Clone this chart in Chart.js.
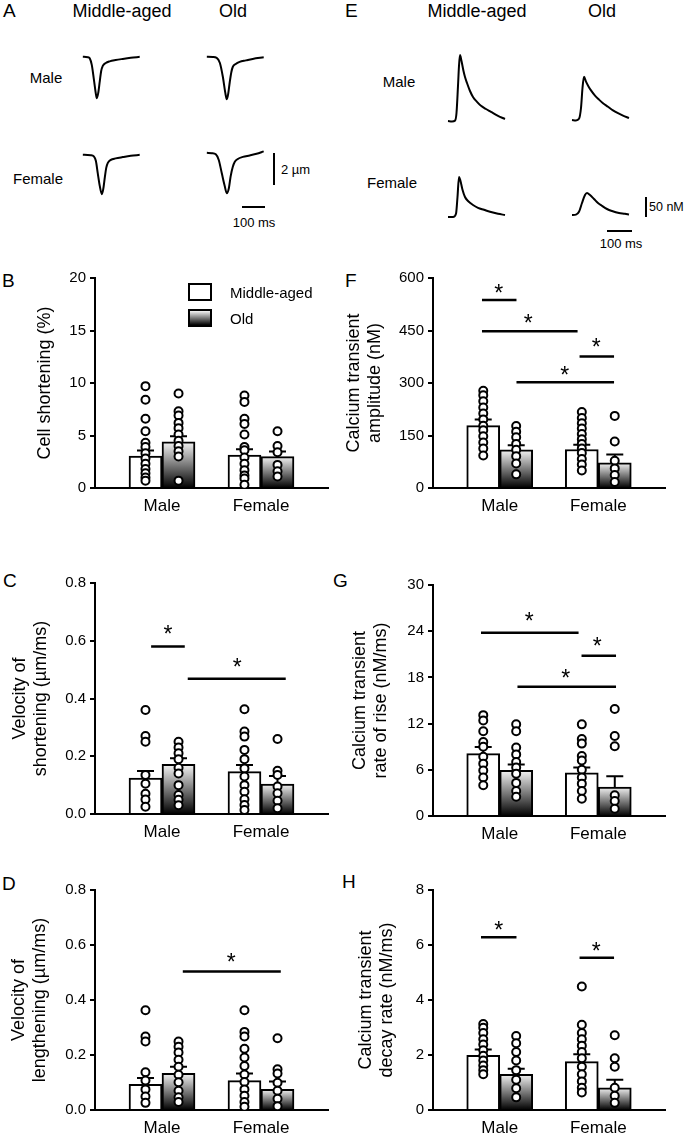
<!DOCTYPE html>
<html>
<head>
<meta charset="utf-8">
<script src="https://cdn.jsdelivr.net/npm/chart.js@4.4.1/dist/chart.umd.min.js"></script>
<style>
  body { margin: 0; background: #fff; }
  #fig { position: relative; width: 686px; height: 1146px; overflow: hidden; background: #fff;
         font-family: Arial, "Liberation Sans", sans-serif; color: #000; }
  #fig canvas { position: absolute; }
  .t { position: absolute; line-height: 1; white-space: nowrap; transform: translateY(-50%); }
  .c { transform: translate(-50%, -50%); }
  .ln { position: absolute; background: #000; }
  .sw { position: absolute; width: 20px; height: 14px; border: 2px solid #000; background: #fff; }
</style>
</head>
<body>
<div id="fig">
  <!-- A : sarcomere traces -->
  <div class="t" style="left:3px;top:10px;font-size:19px">A</div>
  <div class="t c" style="left:122px;top:11px;font-size:18px">Middle-aged</div>
  <div class="t c" style="left:233px;top:11px;font-size:18px">Old</div>
  <div class="t c" style="left:46px;top:77px;font-size:15px">Male</div>
  <div class="t c" style="left:38px;top:178px;font-size:15px">Female</div>
  <canvas id="aMaleMid" width="61" height="50" style="left:81px;top:52px"></canvas>
  <canvas id="aMaleOld" width="61" height="50" style="left:205px;top:52px"></canvas>
  <canvas id="aFemMid" width="61" height="50" style="left:81px;top:150px"></canvas>
  <canvas id="aFemOld" width="61" height="50" style="left:205px;top:148px"></canvas>
  <div class="ln" style="left:273px;top:153px;width:2px;height:32px"></div>
  <div class="t" style="left:281px;top:169px;font-size:13px">2 µm</div>
  <div class="ln" style="left:242px;top:206px;width:23px;height:2px"></div>
  <div class="t c" style="left:254px;top:222px;font-size:13px">100 ms</div>

  <!-- E : calcium transients -->
  <div class="t" style="left:345px;top:10px;font-size:19px">E</div>
  <div class="t c" style="left:477px;top:11px;font-size:18px">Middle-aged</div>
  <div class="t c" style="left:602px;top:11px;font-size:18px">Old</div>
  <div class="t c" style="left:399px;top:81px;font-size:15px">Male</div>
  <div class="t c" style="left:392px;top:182px;font-size:15px">Female</div>
  <canvas id="eMaleMid" width="62" height="76" style="left:446px;top:49px"></canvas>
  <canvas id="eMaleOld" width="62" height="76" style="left:570px;top:48px"></canvas>
  <canvas id="eFemMid" width="62" height="76" style="left:446px;top:145px"></canvas>
  <canvas id="eFemOld" width="62" height="76" style="left:570px;top:143px"></canvas>
  <div class="ln" style="left:645px;top:197px;width:2px;height:20px"></div>
  <div class="t" style="left:649px;top:207px;font-size:12.5px">50 nM</div>
  <div class="ln" style="left:607px;top:230px;width:25px;height:2px"></div>
  <div class="t c" style="left:621px;top:243px;font-size:13px">100 ms</div>

  <!-- bar panels -->
  <div class="t" style="left:2px;top:280px;font-size:19px">B</div>
  <div class="t" style="left:3px;top:580px;font-size:19px">C</div>
  <div class="t" style="left:2px;top:883px;font-size:19px">D</div>
  <div class="t" style="left:345px;top:280px;font-size:19px">F</div>
  <div class="t" style="left:333px;top:580px;font-size:19px">G</div>
  <div class="t" style="left:342px;top:881px;font-size:19px">H</div>

  <canvas id="panelB" width="343" height="270" style="left:0;top:258px"></canvas>
  <canvas id="panelC" width="343" height="291" style="left:0;top:563px"></canvas>
  <canvas id="panelD" width="343" height="276" style="left:0;top:870px"></canvas>
  <canvas id="panelF" width="343" height="270" style="left:343px;top:258px"></canvas>
  <canvas id="panelG" width="343" height="291" style="left:343px;top:565px"></canvas>
  <canvas id="panelH" width="343" height="276" style="left:343px;top:870px"></canvas>

  <!-- legend of B -->
  <div class="sw" style="left:188px;top:283px"></div>
  <div class="sw" style="left:188px;top:309px;background:linear-gradient(#f4f4f4,#000)"></div>
  <div class="t" style="left:230px;top:292px;font-size:15px">Middle-aged</div>
  <div class="t" style="left:230px;top:318px;font-size:15px">Old</div>
</div>

<script>
Chart.defaults.font.family = 'Arial, "Liberation Sans", sans-serif';
Chart.defaults.color = '#000';
Chart.defaults.animation = false;
Chart.defaults.plugins.legend.display = false;
Chart.defaults.plugins.tooltip.enabled = false;

const groups = ['Male', 'Female'];

// ---- A: cell shortening traces (time ms, displacement µm)
const aMaleMidT = [0, 22, 30, 39, 48, 57, 61, 67, 74, 80, 87, 100, 117, 143, 174, 209, 248];
const aMaleMidV = [0, -0.02, -0.09, -0.5, -1.38, -2.31, -2.56, -2.25, -1.5, -0.88, -0.56, -0.38, -0.28, -0.2, -0.13, -0.06, 0];
const aMaleOldT = [0, 26, 43, 57, 70, 80, 87, 93, 100, 107, 113, 126, 143, 170, 200, 248];
const aMaleOldV = [0, -0.01, -0.06, -0.38, -1.25, -2.19, -2.63, -2.31, -1.56, -0.94, -0.63, -0.44, -0.31, -0.22, -0.13, -0.03];
const aFemMidT = [0, 35, 48, 57, 65, 74, 83, 89, 96, 102, 109, 122, 143, 174, 209, 248];
const aFemMidV = [0, -0.02, -0.09, -0.38, -1.13, -1.94, -2.44, -2.13, -1.38, -0.81, -0.5, -0.31, -0.22, -0.14, -0.06, 0];
const aFemOldT = [0, 22, 39, 52, 65, 78, 87, 96, 104, 113, 122, 135, 157, 187, 217, 248];
const aFemOldV = [0, -0.02, -0.09, -0.44, -1.25, -2.06, -2.5, -2.19, -1.44, -0.88, -0.56, -0.38, -0.25, -0.16, -0.06, 0.09];

// ---- E: calcium transient traces (time ms, nM above baseline)
const eMaleMidT = [0, 16, 28, 34, 40, 44, 48, 54, 62, 68, 76, 88, 100, 116, 132, 152, 172, 200, 228];
const eMaleMidV = [0, -1, 1, 20, 88, 138, 165, 150, 125, 110, 95, 75, 60, 48, 38, 30, 23, 13, 5];
const eMaleOldT = [0, 16, 28, 36, 42, 48, 56, 66, 76, 92, 108, 124, 144, 164, 184, 204, 228];
const eMaleOldV = [0, -1, 3, 30, 80, 108, 96, 84, 74, 61, 51, 42, 33, 24, 17, 11, 5];
const eFemMidT = [0, 20, 32, 38, 44, 50, 58, 68, 80, 100, 120, 144, 168, 200, 228];
const eFemMidV = [0, 0, 8, 50, 100, 90, 68, 50, 40, 30, 23, 18, 13, 8, 5];
const eFemOldT = [0, 16, 28, 40, 52, 60, 72, 88, 104, 120, 140, 160, 188, 212, 228];
const eFemOldV = [0, 1, 8, 30, 50, 55, 50, 40, 30, 23, 15, 10, 5, 3, 1];

// ---- B: cell shortening (%)
const bTicks = [0, 5, 10, 15, 20];
const bMid = [3.04, 3.13];
const bOld = [4.40, 2.99];
const bMidSem = [0.53, 0.57];
const bOldSem = [0.53, 0.49];
const bMaleMid = [9.7, 8.4, 6.6, 5.4, 4.3, 3.9, 3.3, 2.8, 2.3, 1.8, 1.4, 1.0, 0.7];
const bMaleOld = [9.0, 7.3, 6.9, 6.2, 5.7, 5.1, 4.5, 4.0, 3.5, 3.0, 0.7];
const bFemMid = [8.8, 8.2, 6.6, 6.1, 5.1, 3.9, 3.6, 2.9, 2.3, 1.7, 1.2, 0.9, 0.3];
const bFemOld = [5.4, 4.0, 3.4, 2.2, 1.6, 1.1];

// ---- C: velocity of shortening (µm/ms)
const cTicks = [0, 0.2, 0.4, 0.6, 0.8];
const cMid = [0.124, 0.147];
const cOld = [0.172, 0.104];
const cMidSem = [0.025, 0.023];
const cOldSem = [0.021, 0.028];
const cMaleMid = [0.36, 0.27, 0.25, 0.135, 0.105, 0.07, 0.05, 0.025];
const cMaleOld = [0.25, 0.23, 0.21, 0.19, 0.16, 0.14, 0.10, 0.066, 0.049, 0.03];
const cFemMid = [0.363, 0.286, 0.268, 0.222, 0.19, 0.158, 0.13, 0.1, 0.077, 0.051, 0.031, 0.014];
const cFemOld = [0.26, 0.15, 0.135, 0.095, 0.072, 0.046, 0.02];
const cSigLines = [[-0.11, 0.23, 0.58], [0.26, 1.25, 0.468]];
const cStars = [[0.06, 0.638], [0.76, 0.525]];

// ---- D: velocity of lengthening (µm/ms)
const dTicks = [0, 0.2, 0.4, 0.6, 0.8];
const dMid = [0.093, 0.107];
const dOld = [0.133, 0.075];
const dMidSem = [0.023, 0.026];
const dOldSem = [0.024, 0.029];
const dMaleMid = [0.363, 0.267, 0.249, 0.137, 0.107, 0.075, 0.049, 0.026];
const dMaleOld = [0.249, 0.23, 0.209, 0.183, 0.157, 0.128, 0.101, 0.07, 0.046, 0.029];
const dFemMid = [0.363, 0.284, 0.267, 0.223, 0.191, 0.16, 0.129, 0.102, 0.075, 0.052, 0.029, 0.012];
const dFemOld = [0.261, 0.148, 0.133, 0.099, 0.07, 0.041, 0.014];
const dSigLines = [[0.21, 1.20, 0.504]];
const dStars = [[0.70, 0.553]];

// ---- F: calcium transient amplitude (nM)
const fTicks = [0, 150, 300, 450, 600];
const fMid = [178, 110];
const fOld = [109, 72];
const fMidSem = [18, 13.5];
const fOldSem = [13, 24];
const fMaleMid = [278, 265, 248, 230, 213, 196, 178, 165, 148, 130, 113, 93];
const fMaleOld = [177, 161, 145, 126, 109, 91, 70, 39];
const fFemMid = [217, 200, 185, 170, 154, 139, 126, 113, 100, 83, 67, 50];
const fFemOld = [206, 133, 78, 56, 37, 17];
const fSigLines = [[-0.18, 0.17, 537], [-0.18, 0.79, 448], [0.81, 1.16, 376], [0.17, 1.16, 302]];
const fStars = [[-0.01, 571], [0.29, 483], [0.98, 417], [0.66, 335]];

// ---- G: calcium transient rate of rise (nM/ms)
const gTicks = [0, 6, 12, 18, 24, 30];
const gMid = [8.1, 5.6];
const gOld = [5.94, 3.77];
const gMidSem = [0.87, 0.7];
const gOldSem = [0.76, 1.39];
const gMaleMid = [13.1, 12.4, 11.0, 9.6, 9.0, 7.7, 6.8, 5.9, 5.0, 4.0];
const gMaleOld = [11.9, 11.0, 8.9, 8.0, 7.0, 6.3, 5.5, 4.3, 3.25, 2.5];
const gFemMid = [11.9, 10.0, 9.4, 7.8, 7.2, 6.0, 5.0, 4.2, 3.25, 2.25];
const gFemOld = [13.9, 10.4, 9.06, 2.7, 1.95, 0.95];
const gSigLines = [[-0.19, 0.80, 23.8], [0.83, 1.18, 20.8], [0.18, 1.18, 16.8]];
const gStars = [[0.30, 25.9], [0.99, 22.6], [0.67, 18.5]];

// ---- H: calcium transient decay rate (nM/ms)
const hTicks = [0, 2, 4, 6, 8];
const hMid = [1.99, 1.76];
const hOld = [1.3, 0.81];
const hMidSem = [0.21, 0.27];
const hOldSem = [0.2, 0.29];
const hMaleMid = [3.13, 2.99, 2.8, 2.57, 2.38, 2.17, 1.97, 1.8, 1.62, 1.45, 1.3];
const hMaleOld = [2.69, 2.43, 2.11, 1.8, 1.45, 1.1, 0.79, 0.46];
const hFemMid = [4.49, 3.1, 2.8, 2.57, 2.34, 2.11, 1.88, 1.57, 1.3, 1.04, 0.81, 0.64];
const hFemOld = [2.72, 1.88, 1.57, 0.81, 0.52, 0.26];
const hSigLines = [[-0.19, 0.17, 6.28], [0.81, 1.16, 5.54]];
const hStars = [[-0.01, 6.72], [0.98, 5.94]];

// half a bar, in x units (bars are 33px, groups 99px apart)
const barShift = 0.167;

function trace(id, t, v, xr, yr) {
  new Chart(document.getElementById(id), {
    type: 'line',
    data: { datasets: [{ data: t.map((x, i) => ({ x: x, y: v[i] })), borderColor: '#000', borderWidth: 2,
                         pointRadius: 0, cubicInterpolationMode: 'monotone' }] },
    options: { responsive: false, layout: { padding: 0 },
      scales: { x: { type: 'linear', display: false, min: xr[0], max: xr[1] },
                y: { display: false, min: yr[0], max: yr[1] } } }
  });
}

const aX = [-8, 258], aY = [-2.8, 0.3];
trace('aMaleMid', aMaleMidT, aMaleMidV, aX, aY);
trace('aMaleOld', aMaleOldT, aMaleOldV, aX, aY);
trace('aFemMid', aFemMidT, aFemMidV, aX, aY);
trace('aFemOld', aFemOldT, aFemOldV, aX, aY);
const eX = [-8, 240], eY = [-10, 180];
trace('eMaleMid', eMaleMidT, eMaleMidV, eX, eY);
trace('eMaleOld', eMaleOldT, eMaleOldV, eX, eY);
trace('eFemMid', eFemMidT, eFemMidV, eX, eY);
trace('eFemOld', eFemOldT, eFemOldV, eX, eY);

// white-to-black fill of the "Old" bars
function oldFill(ctx) {
  const chart = ctx.chart;
  const ys = chart.scales.y;
  if (ctx.type !== 'data' || !ys || !chart.chartArea) return '#888';
  const top = ys.getPixelForValue(ctx.parsed.y);
  const bottom = ys.getPixelForValue(0);
  if (!isFinite(top) || !isFinite(bottom)) return '#888';
  const g = chart.ctx.createLinearGradient(0, top, 0, bottom);
  g.addColorStop(0, '#f4f4f4');
  g.addColorStop(1, '#000');
  return g;
}

const errorBars = {
  id: 'errorBars',
  afterDatasetDraw(chart, args) {
    const ds = chart.data.datasets[args.index];
    if (!ds.sem) return;
    const ys = chart.scales.y, c = chart.ctx;
    c.save();
    c.strokeStyle = '#000';
    c.lineWidth = 2;
    args.meta.data.forEach((bar, i) => {
      const top = ys.getPixelForValue(ds.data[i].y + ds.sem[i]);
      c.beginPath();
      c.moveTo(bar.x, bar.y);
      c.lineTo(bar.x, top);
      c.moveTo(bar.x - 8.5, top);
      c.lineTo(bar.x + 8.5, top);
      c.stroke();
    });
    c.restore();
  }
};

const stars = {
  id: 'stars',
  afterDatasetsDraw(chart, args, opts) {
    const c = chart.ctx, xs = chart.scales.x, ys = chart.scales.y;
    c.save();
    c.fillStyle = '#000';
    c.font = '23px Arial, "Liberation Sans", sans-serif';
    c.textAlign = 'center';
    c.textBaseline = 'alphabetic';
    const m = c.measureText('*');
    const mid = (m.actualBoundingBoxAscent - m.actualBoundingBoxDescent) / 2;
    (opts.marks || []).forEach(p => {
      c.fillText('*', xs.getPixelForValue(p[0]), ys.getPixelForValue(p[1]) + mid);
    });
    c.restore();
  }
};

function barPanel(id, o) {
  const datasets = [
    { type: 'bar', data: o.mid.map((v, i) => ({ x: i, y: v })), sem: o.midSem,
      backgroundColor: '#fff', borderColor: '#000', borderWidth: 2, barThickness: 33, order: 2 },
    { type: 'bar', data: o.old.map((v, i) => ({ x: i, y: v })), sem: o.oldSem,
      backgroundColor: oldFill, borderColor: '#000', borderWidth: 2, barThickness: 33, order: 2 }
  ];
  o.pts.forEach((arr, k) => {
    const gx = Math.floor(k / 2) + (k % 2 ? barShift : -barShift);
    datasets.push({ type: 'scatter', data: arr.map(v => ({ x: gx, y: v })), pointRadius: 4,
      pointBorderWidth: 2, pointBackgroundColor: '#fff', pointBorderColor: '#000', order: 0 });
  });
  (o.sig || []).forEach(s => {
    datasets.push({ type: 'line', data: [{ x: s[0], y: s[2] }, { x: s[1], y: s[2] }],
      borderColor: '#000', borderWidth: 2.5, pointRadius: 0, order: 1 });
  });
  new Chart(document.getElementById(id), {
    type: 'bar',
    data: { datasets: datasets },
    options: {
      responsive: false,
      layout: { padding: { top: 20, right: o.padR, left: 0, bottom: 0 } },
      scales: {
        x: {
          type: 'linear', offset: false, min: -0.677, max: 1.677,
          afterBuildTicks: s => { s.ticks = [0, 1].map(v => ({ value: v })); },
          afterFit: s => { s.height = o.xh; },
          grid: { display: false, drawTicks: false },
          border: { display: true, color: '#000', width: 2 },
          ticks: { padding: 8, font: { size: 17 }, callback: (v, i) => groups[i] }
        },
        y: {
          min: o.ticks[0], max: o.ticks[o.ticks.length - 1],
          afterBuildTicks: s => { s.ticks = o.ticks.map(v => ({ value: v })); },
          afterFit: s => { s.width = o.yw; },
          grid: { drawOnChartArea: false, drawTicks: true, tickLength: 5, color: '#000', lineWidth: 2 },
          border: { display: true, color: '#000', width: 2 },
          ticks: { padding: 4, font: { size: 15 }, callback: (v, i) => o.labels[i] },
          title: { display: true, text: o.title, font: { size: 18, lineHeight: 1.15 },
                   padding: { top: o.titlePad, bottom: 0 } }
        }
      },
      plugins: { stars: { marks: o.stars || [] } }
    },
    plugins: [errorBars, stars]
  });
}

const fmt1 = a => a.map(v => v.toFixed(1));
const fmt0 = a => a.map(v => String(v));

barPanel('panelB', { ticks: bTicks, labels: fmt0(bTicks), mid: bMid, old: bOld, midSem: bMidSem, oldSem: bOldSem,
  pts: [bMaleMid, bMaleOld, bFemMid, bFemOld], title: 'Cell shortening (%)', titlePad: 35,
  yw: 95, padR: 15, xh: 40 });
barPanel('panelC', { ticks: cTicks, labels: fmt1(cTicks), mid: cMid, old: cOld, midSem: cMidSem, oldSem: cOldSem,
  pts: [cMaleMid, cMaleOld, cFemMid, cFemOld], sig: cSigLines, stars: cStars,
  title: ['Velocity of', 'shortening (µm/ms)'], titlePad: 10, yw: 95, padR: 15, xh: 40 });
barPanel('panelD', { ticks: dTicks, labels: fmt1(dTicks), mid: dMid, old: dOld, midSem: dMidSem, oldSem: dOldSem,
  pts: [dMaleMid, dMaleOld, dFemMid, dFemOld], sig: dSigLines, stars: dStars,
  title: ['Velocity of', 'lengthening (µm/ms)'], titlePad: 9, yw: 95, padR: 15, xh: 36 });
barPanel('panelF', { ticks: fTicks, labels: fmt0(fTicks), mid: fMid, old: fOld, midSem: fMidSem, oldSem: fOldSem,
  pts: [fMaleMid, fMaleOld, fFemMid, fFemOld], sig: fSigLines, stars: fStars,
  title: ['Calcium transient', 'amplitude (nM)'], titlePad: 1, yw: 90, padR: 21, xh: 40 });
barPanel('panelG', { ticks: gTicks, labels: fmt0(gTicks), mid: gMid, old: gOld, midSem: gMidSem, oldSem: gOldSem,
  pts: [gMaleMid, gMaleOld, gFemMid, gFemOld], sig: gSigLines, stars: gStars,
  title: ['Calcium transient', 'rate of rise (nM/ms)'], titlePad: 7, yw: 90, padR: 21, xh: 40 });
barPanel('panelH', { ticks: hTicks, labels: fmt0(hTicks), mid: hMid, old: hOld, midSem: hMidSem, oldSem: hOldSem,
  pts: [hMaleMid, hMaleOld, hFemMid, hFemOld], sig: hSigLines, stars: hStars,
  title: ['Calcium transient', 'decay rate (nM/ms)'], titlePad: 13, yw: 90, padR: 21, xh: 36 });
</script>
</body>
</html>
